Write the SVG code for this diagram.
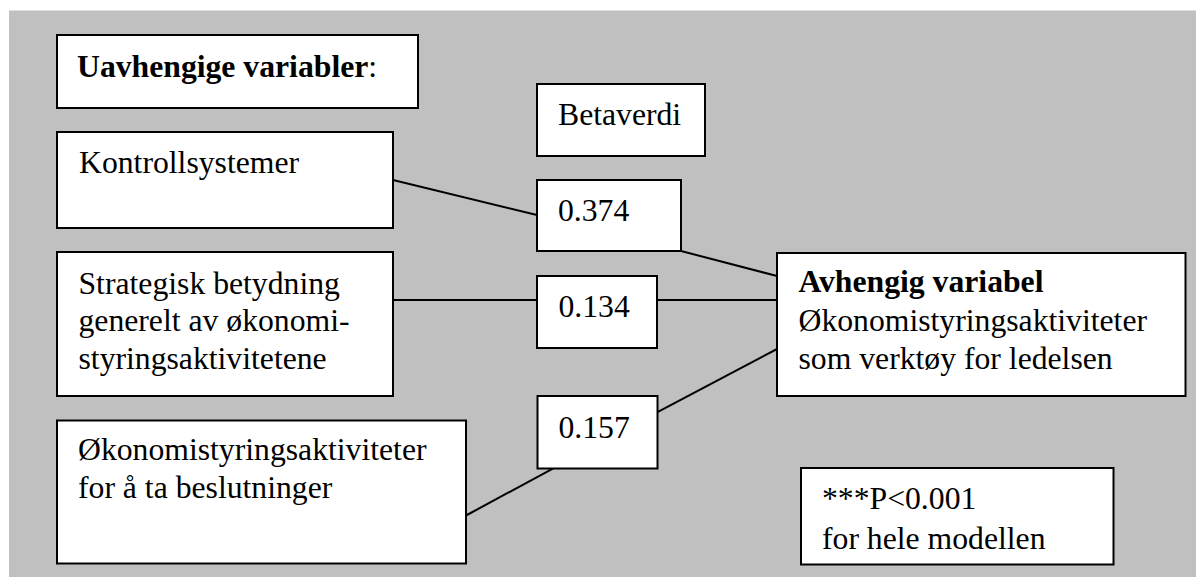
<svg xmlns="http://www.w3.org/2000/svg" width="1196" height="577" viewBox="0 0 1196 577">
  <style>
    .box { fill: #ffffff; stroke: #000000; stroke-width: 2; }
    .lbl { font-family: "Liberation Serif", "Times New Roman", serif; font-size: 31.7px; fill: #000000; }
    .b { font-weight: bold; }
    .conn { stroke: #000000; stroke-width: 2; fill: none; }
  </style>
  <rect x="0" y="0" width="1196" height="577" fill="#ffffff"/>
  <rect x="9" y="10.5" width="1187" height="566.5" fill="#c0c0c0"/>

  <!-- connectors -->
  <g id="connectors">
    <line class="conn" x1="393" y1="180" x2="537" y2="215"/>
    <line class="conn" x1="681" y1="251" x2="777" y2="276"/>
    <line class="conn" x1="393" y1="300" x2="537" y2="300"/>
    <line class="conn" x1="657" y1="300" x2="777" y2="300"/>
    <line class="conn" x1="657" y1="412.3" x2="777" y2="349"/>
    <line class="conn" x1="553.3" y1="468.3" x2="466" y2="515.5"/>
  </g>

  <g id="header-independent">
    <rect class="box" x="57" y="35" width="361" height="73"/>
    <text class="lbl" x="77" y="77"><tspan class="b">Uavhengige variabler</tspan>:</text>
  </g>

  <g id="header-beta">
    <rect class="box" x="537" y="84" width="168" height="72"/>
    <text class="lbl" x="558" y="124.5">Betaverdi</text>
  </g>

  <g id="node-kontroll">
    <rect class="box" x="57" y="132" width="336" height="96"/>
    <text class="lbl" x="79" y="173">Kontrollsystemer</text>
  </g>

  <g id="node-strategisk">
    <rect class="box" x="57" y="252" width="336" height="144"/>
    <text class="lbl" x="78.5" y="293.5">Strategisk betydning</text>
    <text class="lbl" x="78.5" y="331">generelt av økonomi-</text>
    <text class="lbl" x="78.5" y="368.5">styringsaktivitetene</text>
  </g>

  <g id="node-beslutninger">
    <rect class="box" x="57" y="420.5" width="409" height="143"/>
    <text class="lbl" x="78" y="460">Økonomistyringsaktiviteter</text>
    <text class="lbl" x="78" y="498">for å ta beslutninger</text>
  </g>

  <g id="beta-374">
    <rect class="box" x="537" y="180" width="144" height="71"/>
    <text class="lbl" x="558" y="221">0.374</text>
  </g>

  <g id="beta-134">
    <rect class="box" x="537" y="276" width="120" height="72"/>
    <text class="lbl" x="558.5" y="317">0.134</text>
  </g>

  <g id="beta-157">
    <rect class="box" x="537.5" y="396" width="120" height="72.5"/>
    <text class="lbl" x="558.5" y="437.5">0.157</text>
  </g>

  <g id="node-dependent">
    <rect class="box" x="777" y="253" width="408.5" height="143"/>
    <text class="lbl b" x="798.5" y="292">Avhengig variabel</text>
    <text class="lbl" x="798.5" y="331">Økonomistyringsaktiviteter</text>
    <text class="lbl" x="798.5" y="368.5">som verktøy for ledelsen</text>
  </g>

  <g id="note-significance">
    <rect class="box" x="801" y="468" width="312.5" height="96.5"/>
    <text class="lbl" x="822" y="508.5">***P&lt;0.001</text>
    <text class="lbl" x="822" y="548.5">for hele modellen</text>
  </g>
</svg>
